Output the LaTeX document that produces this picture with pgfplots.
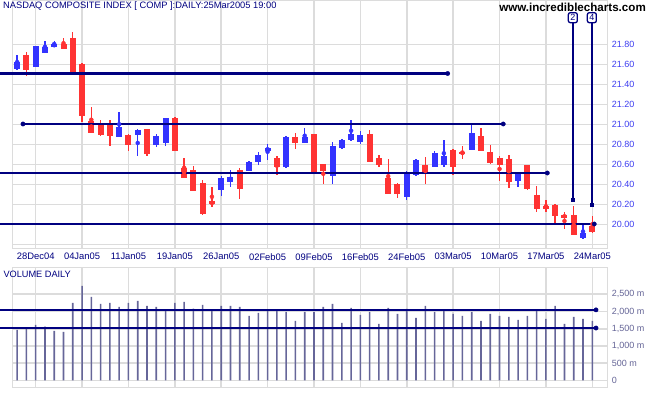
\documentclass[border=0pt]{standalone}
\usepackage{pgfplots}
\pgfplotsset{compat=1.18}
\usepackage{pgfplotstable}
\usepackage{fontspec}
\setmainfont{Liberation Sans}
\definecolor{navy}{RGB}{0,0,128}
\definecolor{upc}{RGB}{51,51,255}
\definecolor{dnc}{RGB}{255,51,51}
\definecolor{gridc}{RGB}{220,220,220}
\definecolor{volc}{RGB}{102,102,153}
\definecolor{pricelab}{RGB}{60,60,240}
\definecolor{vollab}{RGB}{100,100,150}

\pgfplotstableread{
idx open high low close
-2 21.55 21.70 21.55 21.62
0 21.58 21.79 21.575 21.785
1 21.72 21.835 21.72 21.78
2 21.78 21.835 21.775 21.805
9 20.88 21.125 20.88 20.98
11 20.90 20.95 20.68 20.945
13 20.80 20.90 20.77 20.89
14 20.81 21.07 20.79 21.065
20 20.345 20.49 20.29 20.47
21 20.43 20.545 20.37 20.48
23 20.54 20.635 20.535 20.63
24 20.625 20.725 20.60 20.70
25 20.74 20.81 20.645 20.765
27 20.57 20.88 20.565 20.875
29 20.82 20.965 20.81 20.88
32 20.485 20.83 20.405 20.785
33 20.76 20.85 20.755 20.845
34 20.84 21.045 20.83 20.905
35 20.83 20.935 20.80 20.895
40 20.28 20.53 20.24 20.525
41 20.495 20.655 20.48 20.65
43 20.58 20.735 20.575 20.72
44 20.595 20.845 20.58 20.69
47 20.75 21.01 20.745 20.915
52 20.44 20.525 20.38 20.52
59 19.86 20.005 19.855 19.91
}\tblup

\pgfplotstableread{
idx open high low close
-1 21.70 21.725 21.49 21.55
3 21.805 21.865 21.76 21.76
4 21.865 21.925 21.50 21.51
5 21.605 21.61 21.02 21.08
6 21.04 21.175 20.92 20.92
7 21.01 21.045 20.885 20.90
8 21.01 21.045 20.78 20.885
10 20.90 20.91 20.74 20.80
12 20.95 20.955 20.69 20.705
15 21.065 21.07 20.73 20.735
16 20.57 20.665 20.47 20.47
17 20.545 20.585 20.34 20.34
18 20.41 20.445 20.10 20.10
19 20.23 20.375 20.18 20.20
22 20.55 20.56 20.25 20.36
26 20.665 20.68 20.495 20.58
28 20.88 20.915 20.76 20.82
30 20.90 20.905 20.52 20.52
31 20.605 20.61 20.405 20.53
36 20.905 20.945 20.62 20.62
37 20.66 20.695 20.57 20.59
38 20.47 20.655 20.31 20.31
39 20.405 20.41 20.26 20.305
42 20.59 20.67 20.40 20.51
45 20.745 20.75 20.49 20.58
46 20.72 20.785 20.655 20.71
48 20.885 20.965 20.74 20.74
49 20.72 20.795 20.61 20.61
50 20.67 20.68 20.43 20.60
51 20.65 20.695 20.37 20.42
53 20.59 20.60 20.35 20.35
54 20.29 20.385 20.13 20.155
55 20.185 20.245 20.12 20.16
56 20.195 20.20 20.01 20.08
57 20.095 20.12 19.95 20.07
58 20.095 20.185 19.90 19.90
60 19.98 20.085 19.92 19.92
}\tbldn

\pgfplotstableread{
idx vol
-2 1465
-1 1532
0 1610
1 1561
2 1436
3 1407
4 2248
5 2741
6 2422
7 2219
8 2248
9 2132
10 2248
11 2306
12 2161
13 2132
14 2025
15 2248
16 2277
17 2084
18 2190
19 2045
20 2161
21 2161
22 2132
23 1871
24 1958
25 2035
26 2035
27 1987
28 1726
29 1987
30 1987
31 2132
32 2219
33 1668
34 2103
35 1900
36 1987
37 1639
38 2103
39 1929
40 2074
41 1813
42 2161
43 1987
44 2045
45 1929
46 1871
47 1987
48 1726
49 1929
50 1871
51 1842
52 1755
53 1871
54 2016
55 1784
56 2161
57 1639
58 1842
59 1784
60 1726
}\tblvol

\pgfplotsset{
  panel/.style={
    width=595.4pt, scale only axis, clip=false,
    xmin=-2.52, xmax=61.66,
    axis line style={draw=gridc, line width=1.5pt},
    grid=major, major grid style={draw=gridc, line width=1.6pt},
    tick style={draw=none},
    xtick={0,5,...,60},
    yticklabel pos=right,
  },
  wick/.style={only marks, mark=none, color=#1,
    error bars/.cd, y dir=both, y explicit, error mark=none,
    error bar style={line width=1.4pt, color=#1}},
  body/.style={only marks, mark=none, color=#1,
    error bars/.cd, y dir=both, y explicit, error mark=none,
    error bar style={line width=6pt, color=#1}},
  trend/.style={navy, line width=2.2pt, mark=*, mark size=2.2pt,
    mark options={line width=0.3pt, fill=navy}},
}

\begin{document}
\begin{tikzpicture}
\path[use as bounding box] (0,0) rectangle (651pt,395pt);

% ---------- price panel ----------
\begin{axis}[panel,
  at={(12.3pt,146.5pt)}, anchor=south west, height=248.5pt,
  ymin=19.76, ymax=22.245,
  xticklabels={28Dec04,04Jan05,11Jan05,19Jan05,26Jan05,02Feb05,09Feb05,16Feb05,24Feb05,03Mar05,10Mar05,17Mar05,24Mar05},
  xticklabel style={font=\fontsize{9.4}{10}\selectfont, text=navy, anchor=north, inner sep=0pt, yshift=-4.5pt},
  ytick={19.8,20.0,20.2,20.4,20.6,20.8,21.0,21.2,21.4,21.6,21.8},
  yticklabels={,20.00,20.20,20.40,20.60,20.80,21.00,21.20,21.40,21.60,21.80},
  yticklabel style={font=\fontsize{9}{10}\selectfont, text=pricelab, anchor=west, inner sep=0pt, xshift=4pt},
]
\addplot[wick=upc] table[x=idx, y expr={(\thisrow{high}+\thisrow{low})/2}, y error expr={(\thisrow{high}-\thisrow{low})/2}] {\tblup};
\addplot[body=upc] table[x=idx, y expr={(\thisrow{open}+\thisrow{close})/2}, y error expr={max(abs(\thisrow{close}-\thisrow{open})/2,0.006)}] {\tblup};
\addplot[wick=dnc] table[x=idx, y expr={(\thisrow{high}+\thisrow{low})/2}, y error expr={(\thisrow{high}-\thisrow{low})/2}] {\tbldn};
\addplot[body=dnc] table[x=idx, y expr={(\thisrow{open}+\thisrow{close})/2}, y error expr={max(abs(\thisrow{close}-\thisrow{open})/2,0.006)}] {\tbldn};

\addplot[trend, mark indices={2}] coordinates {(-3.848,21.51) (44.41,21.51)};
\addplot[trend] coordinates {(-1.369,21.005) (50.40,21.005)};
\addplot[trend, mark indices={2}] coordinates {(-3.848,20.515) (55.15,20.515)};
\addplot[trend, mark indices={2}] coordinates {(-3.848,20.005) (60.21,20.005)};

\addplot[navy, line width=2pt, mark=square*, mark size=1.5pt, mark options={line width=0.3pt}, mark indices={2}] coordinates {(57.9,22.018) (57.9,20.25)};
\addplot[navy, line width=2pt, mark=square*, mark size=1.5pt, mark options={line width=0.3pt}, mark indices={2}] coordinates {(59.95,22.018) (59.95,20.202)};

\node[draw=navy, line width=1.3pt, rounded corners=2pt, fill=white, inner sep=0pt, minimum width=9pt, minimum height=10pt, text=navy, font=\fontsize{9}{9}\selectfont] at (axis cs:57.9,22.068) {2};
\node[draw=navy, line width=1.3pt, rounded corners=2pt, fill=white, inner sep=0pt, minimum width=9pt, minimum height=10pt, text=navy, font=\fontsize{9}{9}\selectfont] at (axis cs:59.95,22.068) {4};
\end{axis}

% ---------- volume panel ----------
\begin{axis}[panel,
  at={(12.3pt,7.5pt)}, anchor=south west, height=120.2pt,
  ymin=-203, ymax=3283,
  xticklabels={},
  ytick={0,500,1000,1500,2000,2500},
  yticklabels={{0},{500 m},{1,000 m},{1,500 m},{2,000 m},{2,500 m}},
  yticklabel style={font=\fontsize{9}{10}\selectfont, text=vollab, anchor=west, inner sep=0pt, xshift=4pt},
]
\addplot[ybar, bar width=1.6pt, bar shift=0pt, fill=volc, draw=none] table[x=idx, y=vol] {\tblvol};
\addplot[trend, mark indices={2}] coordinates {(-3.848,2048) (60.40,2048)};
\addplot[trend, mark indices={2}] coordinates {(-3.848,1522) (60.40,1522)};
\end{axis}

\node[anchor=west, inner sep=0pt, text=navy, font=\fontsize{9.3}{10}\selectfont] at (3pt,389.3pt) {NASDAQ COMPOSITE INDEX [ COMP ]:DAILY:25Mar2005 19:00};
\node[anchor=east, inner sep=0pt, font=\bfseries\fontsize{11.6}{12}\selectfont] at (646pt,388pt) {www.incrediblecharts.com};
\node[anchor=west, inner sep=0pt, text=navy, font=\fontsize{9.2}{10}\selectfont] at (3.3pt,120.3pt) {VOLUME DAILY};
\end{tikzpicture}
\end{document}
